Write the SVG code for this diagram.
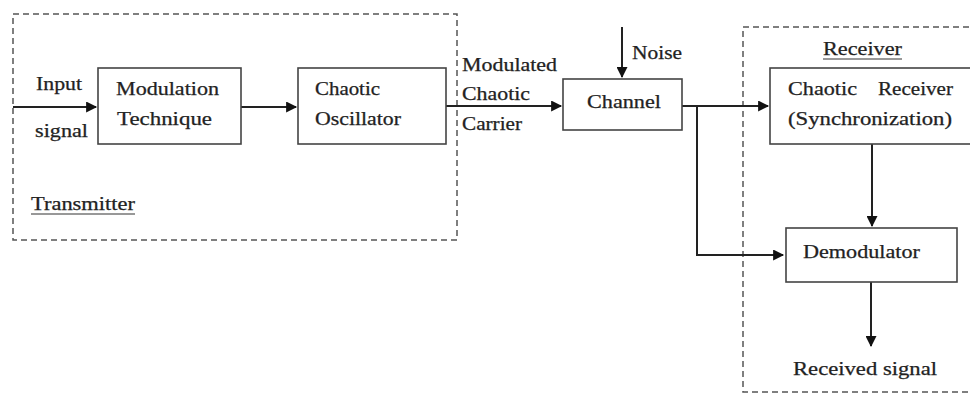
<svg xmlns="http://www.w3.org/2000/svg" width="970" height="394" viewBox="0 0 970 394">
  <style>
    text { font-family: "Liberation Serif", "Times New Roman", serif; font-size: 18px; fill: #222; stroke: #222; stroke-width: 0.25; }
    .box { fill: #fff; stroke: #444; stroke-width: 1.6; }
    .dash { fill: none; stroke: #555; stroke-width: 1.5; stroke-dasharray: 6 4; }
    .wire { fill: none; stroke: #222; stroke-width: 2; }
    .ul { stroke: #333; stroke-width: 1.2; }
  </style>
  <defs>
    <marker id="arrow" viewBox="0 0 10 10" refX="9" refY="5" markerWidth="6" markerHeight="5.5" markerUnits="strokeWidth" orient="auto">
      <path d="M0,0 L10,5 L0,10 z" fill="#111"/>
    </marker>
  </defs>
  <rect width="970" height="394" fill="#fff"/>

  <!-- Subsystem boundaries -->
  <g id="transmitter">
    <rect class="dash" x="13" y="14" width="444" height="226"/>
    <text x="31" y="210" textLength="104" lengthAdjust="spacingAndGlyphs">Transmitter</text>
    <line class="ul" x1="31" y1="214" x2="135" y2="214"/>
  </g>
  <g id="receiver">
    <rect class="dash" x="743" y="27" width="260" height="365"/>
    <text x="823" y="55" textLength="79" lengthAdjust="spacingAndGlyphs">Receiver</text>
    <line class="ul" x1="823" y1="59" x2="902" y2="59"/>
  </g>

  <!-- Connectors -->
  <g id="connectors">
    <path class="wire" d="M13,107 H96" marker-end="url(#arrow)"/>
    <path class="wire" d="M241,107 H296" marker-end="url(#arrow)"/>
    <path class="wire" d="M446,106 H561" marker-end="url(#arrow)"/>
    <path class="wire" d="M622,27 V77" marker-end="url(#arrow)"/>
    <path class="wire" d="M682,106 H768" marker-end="url(#arrow)"/>
    <path class="wire" d="M697,106 V255 H783" marker-end="url(#arrow)"/>
    <path class="wire" d="M872,144 V226" marker-end="url(#arrow)"/>
    <path class="wire" d="M871,282 V346" marker-end="url(#arrow)"/>
  </g>

  <!-- Free labels -->
  <g id="labels">
    <text x="36" y="90" textLength="46" lengthAdjust="spacingAndGlyphs">Input</text>
    <text x="35" y="137" textLength="53" lengthAdjust="spacingAndGlyphs">signal</text>
    <text x="462" y="71" textLength="95" lengthAdjust="spacingAndGlyphs">Modulated</text>
    <text x="462" y="100" textLength="68" lengthAdjust="spacingAndGlyphs">Chaotic</text>
    <text x="462" y="130" textLength="60" lengthAdjust="spacingAndGlyphs">Carrier</text>
    <text x="632" y="59" textLength="50" lengthAdjust="spacingAndGlyphs">Noise</text>
    <text x="793" y="375" textLength="144" lengthAdjust="spacingAndGlyphs">Received signal</text>
  </g>

  <!-- Blocks -->
  <g id="modulation">
    <rect class="box" x="98" y="68" width="143" height="76"/>
    <text x="116" y="95" textLength="103" lengthAdjust="spacingAndGlyphs">Modulation</text>
    <text x="117" y="125" textLength="95" lengthAdjust="spacingAndGlyphs">Technique</text>
  </g>
  <g id="oscillator">
    <rect class="box" x="298" y="68" width="148" height="76"/>
    <text x="315" y="95" textLength="65" lengthAdjust="spacingAndGlyphs">Chaotic</text>
    <text x="315" y="125" textLength="86" lengthAdjust="spacingAndGlyphs">Oscillator</text>
  </g>
  <g id="channel">
    <rect class="box" x="563" y="79" width="119" height="51"/>
    <text x="587" y="108" textLength="74" lengthAdjust="spacingAndGlyphs">Channel</text>
  </g>
  <g id="chaotic-receiver">
    <rect class="box" x="770" y="68" width="230" height="76"/>
    <text x="788" y="95" textLength="69" lengthAdjust="spacingAndGlyphs">Chaotic</text>
    <text x="878" y="95" textLength="75" lengthAdjust="spacingAndGlyphs">Receiver</text>
    <text x="788" y="125" textLength="164" lengthAdjust="spacingAndGlyphs">(Synchronization)</text>
  </g>
  <g id="demodulator">
    <rect class="box" x="786" y="228" width="171" height="54"/>
    <text x="803" y="258" textLength="117" lengthAdjust="spacingAndGlyphs">Demodulator</text>
  </g>
</svg>
